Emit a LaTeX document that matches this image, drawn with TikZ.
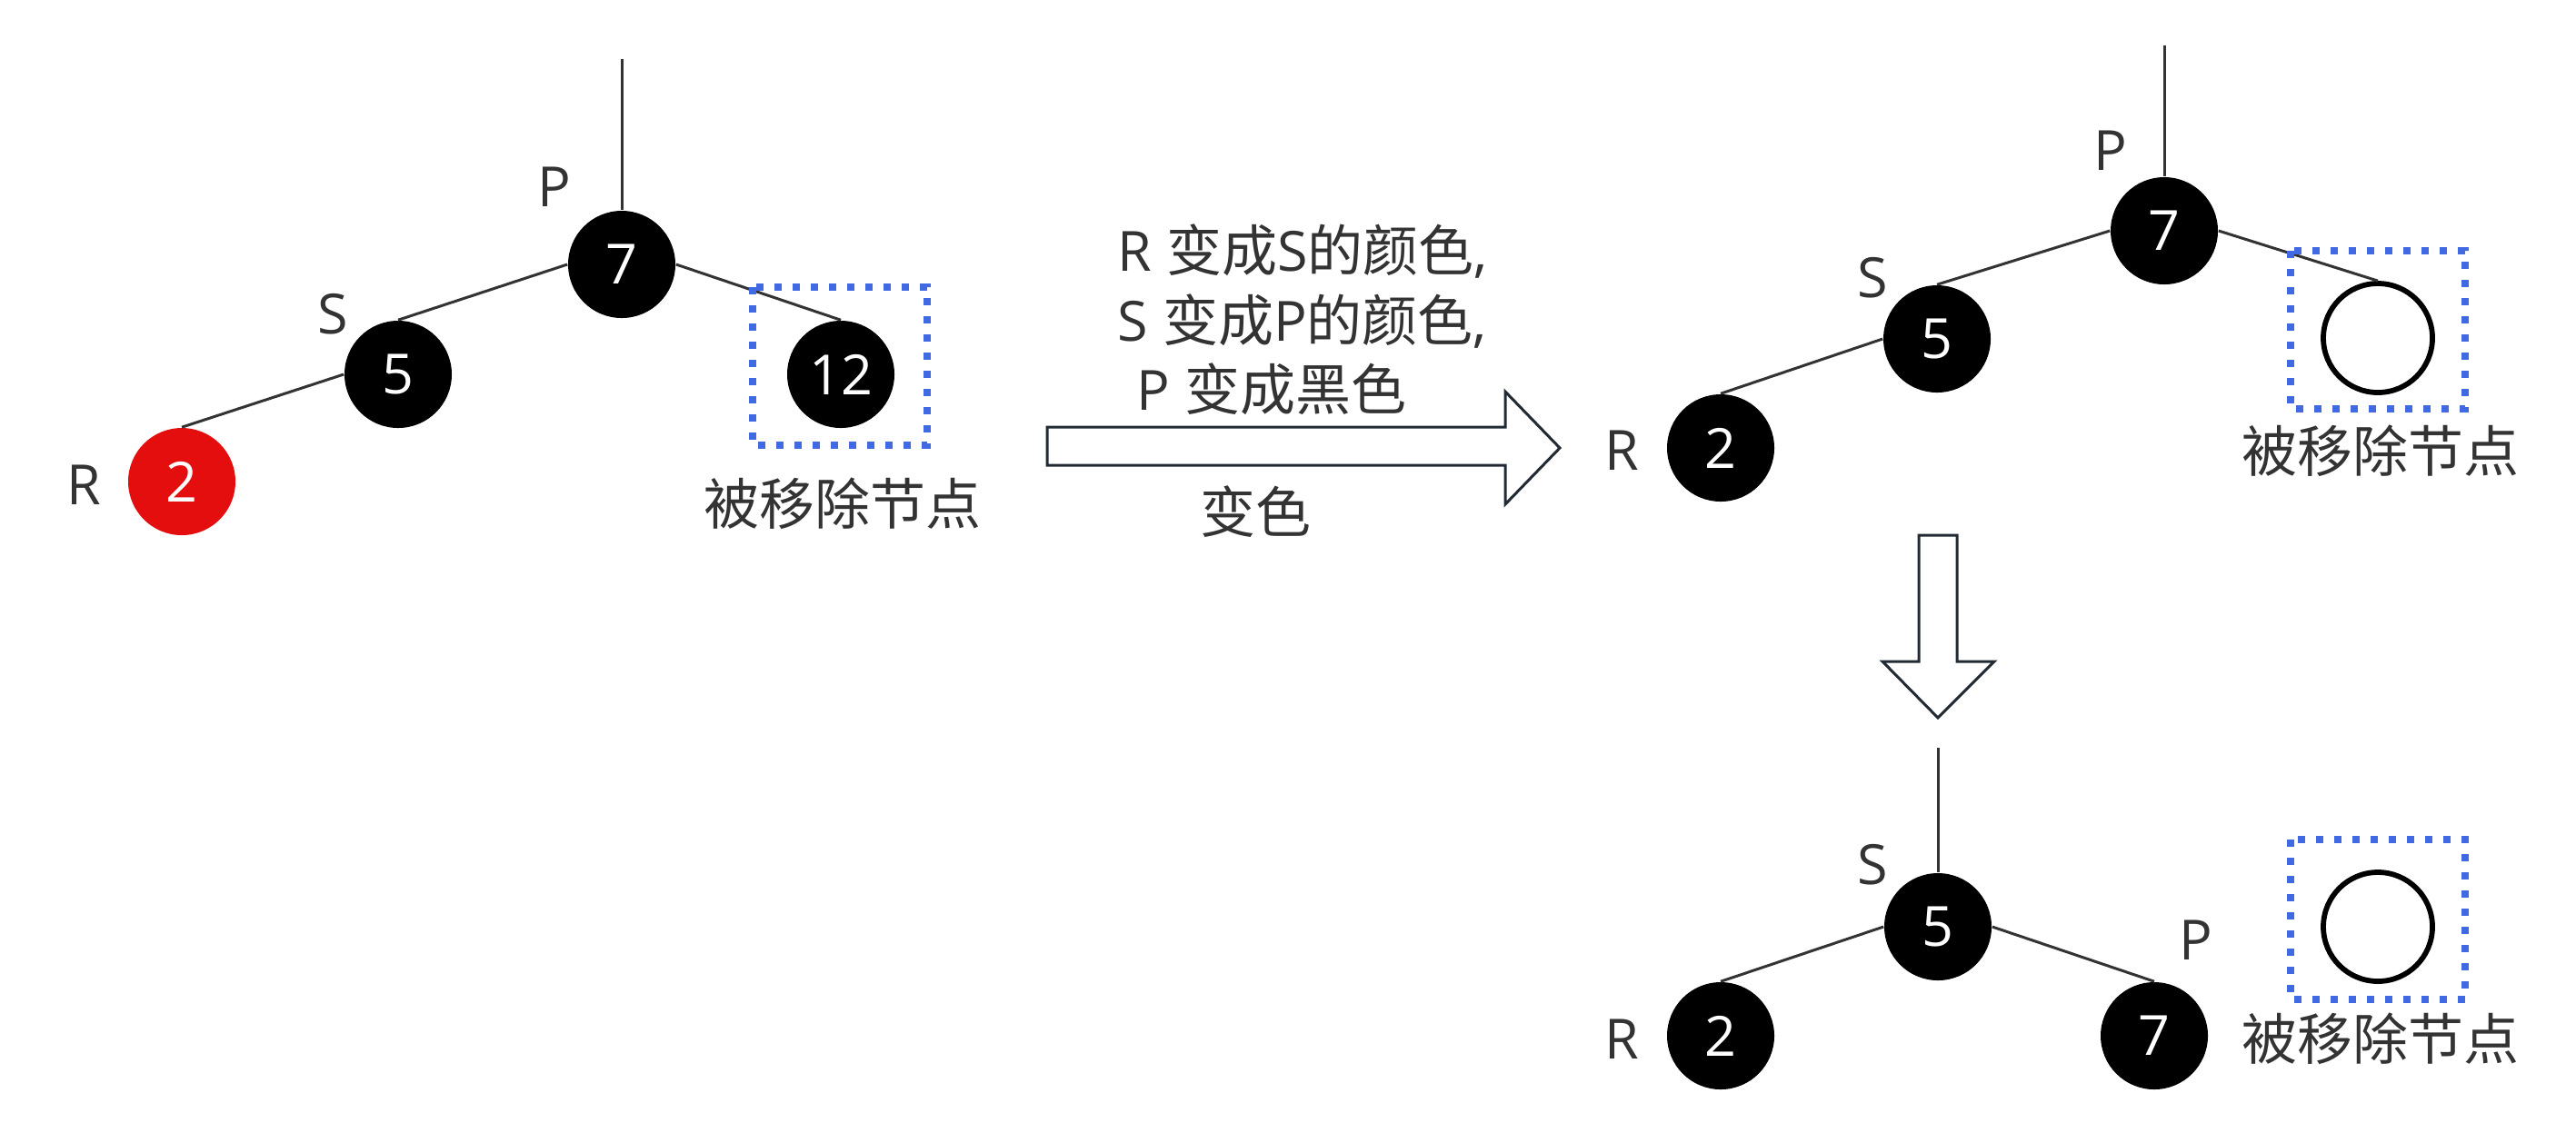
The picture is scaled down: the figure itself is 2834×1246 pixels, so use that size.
\documentclass[tikz,border=0pt]{standalone}
\usepackage{fontspec}
\setmainfont{Open Sans}
\newfontfamily\cjk{Noto Sans CJK SC}
\definecolor{txt}{HTML}{333333}
\definecolor{redn}{HTML}{E50E0E}
\definecolor{boxblue}{HTML}{4169E1}
\definecolor{arrowline}{HTML}{222A33}
\begin{document}
\begin{tikzpicture}[x=0.25pt,y=-0.25pt,
  every node/.style={font=\fontsize{15.25}{18}\selectfont},
  bnode/.style={circle,fill=black,minimum size=29.5pt,inner sep=0pt,text=white},
  rnode/.style={bnode,fill=redn},
  enode/.style={circle,draw=black,line width=1.45pt,minimum size=30pt,inner sep=0pt},
  lbl/.style={text=txt,inner sep=0pt,anchor=base},
  cjklbl/.style={text=txt,inner sep=0pt,font=\fontsize{15.25}{18}\selectfont\cjk},
  edge/.style={draw=txt,line width=0.75pt},
  delbox/.style={draw=boxblue,line width=2pt,dash pattern=on 2pt off 3pt},
  bigarrow/.style={draw=arrowline,line width=0.75pt,fill=white,line join=miter}
]
\useasboundingbox (0,0) rectangle (2834,1246);

% ---------- tree 1 ----------
\coordinate (t1) at (684,65);
\node[bnode] (p1) at (684,291) {7};
\node[bnode] (s1) at (438,412) {5};
\node[rnode] (r1) at (200,530) {2};
\node[bnode] (x1) at (925,412) {12};
\node[lbl] (pl1) at (610,227) {P};
\node[lbl] (sl1) at (366,367) {S};
\node[lbl] (rl1) at (92,555) {R};
\draw[edge] (t1) -- (p1.north);
\draw[edge] (p1.west) -- (s1.north);
\draw[edge] (s1.west) -- (r1.north);
\draw[edge] (p1.east) -- (x1.north);
\draw[delbox] (828,316) rectangle (1020,490);
\node[cjklbl] (d1) at (927,554) {被移除节点};

% ---------- middle arrow and text ----------
\draw[bigarrow] (1152,470) -- (1656,470) -- (1656,431) -- (1716,493) -- (1656,555) -- (1656,512) -- (1152,512) -- cycle;
\node[lbl,anchor=base west] (m1) at (1229,298) {R {\cjk 变成}S{\cjk 的颜色},};
\node[lbl,anchor=base west] (m2) at (1229,375) {S {\cjk 变成}P{\cjk 的颜色},};
\node[lbl,anchor=base west] (m3) at (1250,451) {P {\cjk 变成黑色}};
\node[cjklbl] (m4) at (1381,563) {变色};

% ---------- tree 2 ----------
\coordinate (t2) at (2381,50);
\node[bnode] (p2) at (2381,254) {7};
\node[bnode] (s2) at (2131,373) {5};
\node[bnode] (r2) at (1893,493) {2};
\node[enode] (e2) at (2616,372) {};
\node[lbl] (pl2) at (2322,187) {P};
\node[lbl] (sl2) at (2060,327) {S};
\node[lbl] (rl2) at (1784,517) {R};
\draw[edge] (t2) -- (p2.north);
\draw[edge] (p2.west) -- (s2.north);
\draw[edge] (s2.west) -- (r2.north);
\draw[edge] (p2.east) -- (e2.north);
\draw[delbox] (2520,276) rectangle (2712,450);
\node[cjklbl] (d2) at (2619,496) {被移除节点};

% ---------- down arrow ----------
\draw[bigarrow] (2111,589) -- (2153,589) -- (2153,728) -- (2194,728) -- (2132,790) -- (2071,728) -- (2111,728) -- cycle;

% ---------- tree 3 ----------
\coordinate (t3) at (2132,823);
\node[bnode] (s3) at (2132,1020) {5};
\node[bnode] (r3) at (1893,1140) {2};
\node[bnode] (p3) at (2370,1140) {7};
\node[enode] (e3) at (2616,1020) {};
\node[lbl] (sl3) at (2060,973) {S};
\node[lbl] (rl3) at (1784,1165) {R};
\node[lbl] (pl3) at (2416,1056) {P};
\draw[edge] (t3) -- (s3.north);
\draw[edge] (s3.west) -- (r3.north);
\draw[edge] (s3.east) -- (p3.north);
\draw[delbox] (2520,924) rectangle (2712,1100);
\node[cjklbl] (d3) at (2619,1143) {被移除节点};
\end{tikzpicture}
\end{document}
